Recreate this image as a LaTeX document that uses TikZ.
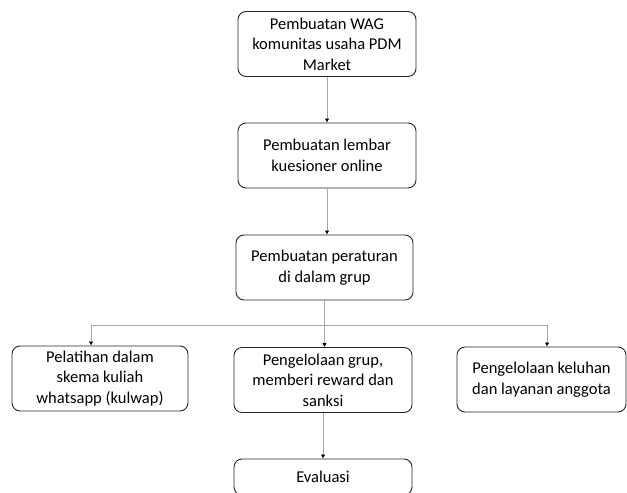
\documentclass[tikz,border=0pt]{standalone}
\usepackage{fontspec}
\setmainfont{Carlito}
\usetikzlibrary{arrows.meta}

\begin{document}
\begin{tikzpicture}[x=1pt,y=-1pt,
  box/.style={draw=black!85, line width=0.9pt, rounded corners=8pt, align=center, minimum width=178pt, minimum height=65pt, inner sep=2pt, font=\fontsize{16.5}{20.5}\selectfont},
  link/.style={draw=black!35, line width=0.9pt},
  conn/.style={link, -{Latex[black,length=4pt,width=4.5pt]}}]
\useasboundingbox (0,0) rectangle (627,493);
\node[box] (wag) at (327,44) {Pembuatan WAG\\komunitas usaha PDM\\Market};
\node[box] (kuesioner) at (327,155.5) {Pembuatan lembar\\kuesioner online};
\node[box, minimum width=177pt] (aturan) at (324.5,267.5) {Pembuatan peraturan\\di dalam grup};
\node[box, minimum width=176pt] (kulwap) at (100,378.5) {Pelatihan dalam\\skema kuliah\\whatsapp (kulwap)};
\node[box] (kelola) at (323,380) {Pengelolaan grup,\\memberi reward dan\\sanksi};
\node[box, minimum width=169pt] (keluhan) at (541.5,379.5) {Pengelolaan keluhan\\dan layanan anggota};
\node[box, minimum height=36pt] (evaluasi) at (323,477) {Evaluasi};
% garis cabang
\coordinate (busL) at (91,325);
\coordinate (busR) at (547,325);
\draw[conn] (wag) -- (kuesioner);
\draw[conn] (kuesioner) -- (kuesioner |- aturan.north);
\draw[conn] (aturan.south) -- (aturan.south |- kelola.north);
\draw[link] (busL) -- (busR);
\draw[conn] (busL) -- (busL |- kulwap.north);
\draw[conn] (busR) -- (busR |- keluhan.north);
\draw[conn] (kelola.south) -- (evaluasi.north);
\end{tikzpicture}
\end{document}
